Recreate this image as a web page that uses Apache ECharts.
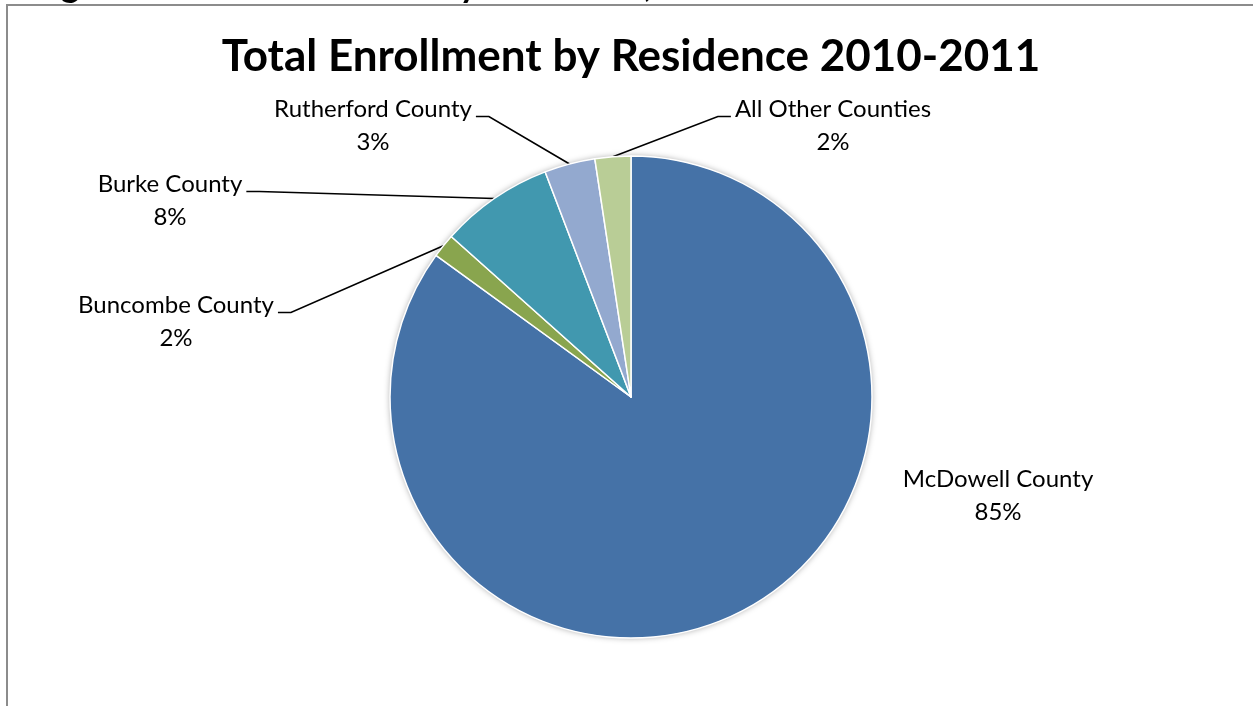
<!DOCTYPE html>
<html>
<head>
<meta charset="utf-8">
<title>Total Enrollment by Residence 2010-2011</title>
<script src="https://cdn.jsdelivr.net/npm/echarts@6/dist/echarts.min.js"></script>
<style>
  html, body { margin: 0; padding: 0; background: #ffffff; }
  #chart { width: 1253px; height: 706px; }
</style>
</head>
<body>
<div id="chart"></div>
<script>
// Enrollment share by county of residence (percent of total)
const categories = ['McDowell County', 'Buncombe County', 'Burke County', 'Rutherford County', 'All Other Counties'];
const shares = [85.0, 1.6, 7.6, 3.4, 2.4];
const sliceColors = ['#4572A7', '#89A54E', '#4198AF', '#93A9CF', '#B9CD96'];

const headingText = 'Figure 4: Total Enrollment by Residence, 2010-2011';
const chartTitle = 'Total Enrollment by Residence 2010-2011';

// Label layout: centre of each label block and the side its leader line leaves from
const labelSpots = [
  [998, 496, null],
  [176, 322, 'right'],
  [170, 201, 'right'],
  [373, 126, 'right'],
  [833, 126, 'left']
];
const LABEL_FONT = 24;
const LABEL_LINE_H = 33;

const FONT = 'Lato, "Open Sans", sans-serif';
const PIE_CENTER = [631, 397];
const PIE_RADIUS = 241;

// place the page heading so the "y" of "by" sits at x = 469
const HEADING_FONT = 'bold 35px ' + FONT;
const measureCtx = document.createElement('canvas').getContext('2d');
measureCtx.font = HEADING_FONT;
const byIdx = headingText.indexOf('by') + 1;
const headingX = 469 - measureCtx.measureText(headingText.slice(0, byIdx)).width
  - measureCtx.measureText('y').width / 2;

const chart = echarts.init(document.getElementById('chart'), null, { renderer: 'canvas' });

const sliceData = categories.map(function (name, i) {
  const item = { name: name, value: shares[i], itemStyle: { color: sliceColors[i] } };
  if (!labelSpots[i][2]) item.labelLine = { show: false };
  return item;
});

chart.setOption({
  backgroundColor: '#ffffff',
  animation: false,
  graphic: [
    {
      // frame around the chart area
      type: 'rect',
      z: 0,
      shape: { x: 7, y: 5, width: 1400, height: 900 },
      style: { fill: 'none', stroke: '#8c8c8c', lineWidth: 2 }
    },
    {
      type: 'text',
      z: 1,
      x: headingX,
      y: -14,
      style: {
        text: headingText,
        font: HEADING_FONT,
        fill: '#000000',
        align: 'left',
        verticalAlign: 'middle'
      }
    },
    {
      type: 'text',
      z: 5,
      x: 631,
      y: 57,
      style: {
        text: chartTitle,
        font: 'bold 44px ' + FONT,
        fill: '#000000',
        align: 'center',
        verticalAlign: 'middle'
      }
    }
  ],
  series: [
    {
      // soft shadow under the whole pie
      type: 'pie',
      silent: true,
      z: 1,
      center: PIE_CENTER,
      radius: PIE_RADIUS,
      label: { show: false },
      labelLine: { show: false },
      itemStyle: {
        color: '#ffffff',
        shadowBlur: 6,
        shadowColor: 'rgba(0,0,0,0.35)'
      },
      data: [{ value: 1, name: '' }]
    },
    {
      type: 'pie',
      z: 2,
      center: PIE_CENTER,
      radius: PIE_RADIUS,
      startAngle: 90,
      clockwise: true,
      percentPrecision: 0,
      avoidLabelOverlap: false,
      itemStyle: { borderColor: '#ffffff', borderWidth: 1.5 },
      emphasis: { disabled: true },
      label: {
        show: true,
        position: 'outside',
        formatter: '{b}\n{d}%',
        fontFamily: FONT,
        fontSize: LABEL_FONT,
        lineHeight: LABEL_LINE_H,
        color: '#000000',
        align: 'center'
      },
      labelLine: {
        show: true,
        length: 20,
        length2: 20,
        smooth: false,
        lineStyle: { color: '#000000', width: 1.6 }
      },
      labelLayout: function (p) {
        const spot = labelSpots[p.dataIndex];
        const out = { x: spot[0], y: spot[1], align: 'center', verticalAlign: 'middle' };
        if (spot[2] && p.labelLinePoints) {
          const w = p.labelRect.width;
          const h = p.labelRect.height;
          const lineY = spot[1] - h / 2 + LABEL_LINE_H / 2 + 7;
          const dir = spot[2] === 'right' ? 1 : -1;
          const edgeX = spot[0] + dir * (w / 2 + 4);
          const kneeX = edgeX + dir * 13;
          out.labelLinePoints = [p.labelLinePoints[0], [kneeX, lineY], [edgeX, lineY]];
        }
        return out;
      },
      data: sliceData
    }
  ]
});
</script>
</body>
</html>
